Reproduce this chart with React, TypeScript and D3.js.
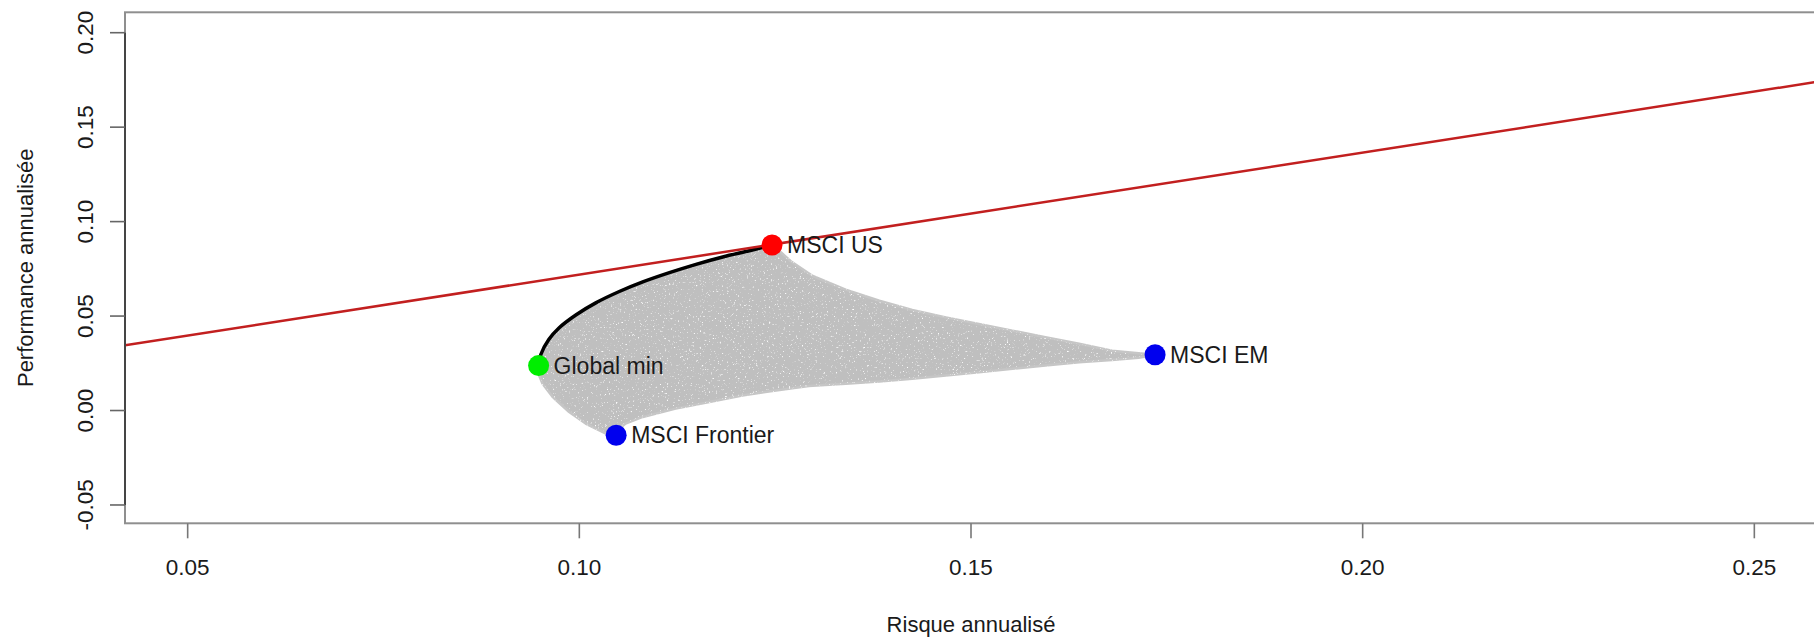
import React from 'react';
import * as d3 from 'd3';

// ---------- data ----------
const xTicks = [0.05, 0.1, 0.15, 0.2, 0.25];
const xTickLabels = ['0.05', '0.10', '0.15', '0.20', '0.25'];
const yTicks = [-0.05, 0.0, 0.05, 0.1, 0.15, 0.2];
const yTickLabels = ['-0.05', '0.00', '0.05', '0.10', '0.15', '0.20'];

const assetNames = ['MSCI US', 'MSCI EM', 'MSCI Frontier', 'Global min'];
const assetRisk = [0.1246, 0.1735, 0.1047, 0.0948];
const assetReturn = [0.0876, 0.0295, -0.0131, 0.0238];
const assetColors = ['#ff0000', '#0000ee', '#0000ee', '#00ee00'];

// efficient frontier (Global min -> MSCI US)
const frontierRisk = [0.0948, 0.0951, 0.0961, 0.0974, 0.0996, 0.1021, 0.1051, 0.1081, 0.1115, 0.1149, 0.1183, 0.1217, 0.1246];
const frontierReturn = [0.0238, 0.0298, 0.0376, 0.0437, 0.0507, 0.057, 0.063, 0.0681, 0.073, 0.0774, 0.0813, 0.0846, 0.0876];

// simulated portfolio cloud outline
const cloudUpperRisk = [0.1246, 0.1258, 0.127, 0.1298, 0.134, 0.1383, 0.1425, 0.1468, 0.151, 0.1553, 0.1595, 0.1638, 0.168, 0.1714, 0.1735];
const cloudUpperReturn = [0.0876, 0.0835, 0.079, 0.0712, 0.0640, 0.0581, 0.0532, 0.0493, 0.0458, 0.0423, 0.0388, 0.0353, 0.0317, 0.0303, 0.0295];
const cloudLowerRisk = [0.1735, 0.1714, 0.168, 0.1638, 0.1595, 0.1553, 0.151, 0.1468, 0.1425, 0.1383, 0.134, 0.1293, 0.1251, 0.1208, 0.1166, 0.1123, 0.1081, 0.1059, 0.1051, 0.1047];
const cloudLowerReturn = [0.0295, 0.0279, 0.0268, 0.0256, 0.0238, 0.0221, 0.0203, 0.0186, 0.0168, 0.0154, 0.0142, 0.0130, 0.0106, 0.008, 0.0045, 0.001, -0.0034, -0.0069, -0.0096, -0.0131];
const cloudLeftRisk = [0.1047, 0.1034, 0.1008, 0.0987, 0.0966, 0.0953, 0.0947, 0.0948];
const cloudLeftReturn = [-0.0131, -0.0122, -0.0069, -0.0008, 0.0071, 0.0142, 0.0203, 0.0238];

// capital market line (two points on it)
const cmlRisk = [0.042, 0.258];
const cmlReturn = [0.0345, 0.174];

const W = 1814;
const H = 641;
const FONT = "'Liberation Sans', Arial, Helvetica, sans-serif";

export default function App() {
  const left = 125, right = 1817, top = 12.3, bottom = 523.3;
  const x = d3.scaleLinear().domain([0.042, 0.258]).range([left, right]);
  const y = d3.scaleLinear().domain([-0.0597, 0.2108]).range([bottom, top]);

  const zip = (a: number[], b: number[]) => a.map((v, i) => [v, b[i]] as [number, number]);
  const cloudPts = [
    ...zip(frontierRisk, frontierReturn),
    ...zip(cloudUpperRisk, cloudUpperReturn),
    ...zip(cloudLowerRisk, cloudLowerReturn),
    ...zip(cloudLeftRisk, cloudLeftReturn),
  ];
  const mk = () => d3.line<[number, number]>().x(d => x(d[0])).y(d => y(d[1]));
  const cloudPath = mk().curve(d3.curveLinearClosed)(cloudPts) || '';
  const frontierPath = mk().curve(d3.curveCatmullRom)(zip(frontierRisk, frontierReturn)) || '';
  const cmlPath = mk()(zip(cmlRisk, cmlReturn)) || '';

  return (
    <svg width={W} height={H} style={{ position: 'absolute', left: 0, top: 0, background: '#fff' }} fontFamily={FONT}>
      <defs>
        <clipPath id="plotclip">
          <rect x={left} y={top} width={right - left} height={bottom - top} />
        </clipPath>
        <filter id="speckle" x="-2%" y="-5%" width="104%" height="110%">
          <feTurbulence type="fractalNoise" baseFrequency="0.55" numOctaves="2" seed="7" result="noise" />
          <feColorMatrix in="noise" type="matrix" values="0 0 0 0 1  0 0 0 0 1  0 0 0 0 1  5 0 0 0 -3.2" result="spots" />
          <feComposite in="spots" in2="SourceGraphic" operator="in" result="spotsIn" />
          <feMerge>
            <feMergeNode in="SourceGraphic" />
            <feMergeNode in="spotsIn" />
          </feMerge>
        </filter>
      </defs>
      <rect x={0} y={0} width={W} height={H} fill="#fff" />
      <g clipPath="url(#plotclip)">
        <path d={cloudPath} fill="#bfbfbf" stroke="#c6c6c6" strokeWidth={2.5} strokeLinejoin="round" filter="url(#speckle)" />
        <path d={frontierPath} fill="none" stroke="#000" strokeWidth={3.5} />
        <path d={cmlPath} fill="none" stroke="#c21f1f" strokeWidth={2.5} />
        {assetNames.map((n, i) => (
          <circle key={n} cx={x(assetRisk[i])} cy={y(assetReturn[i])} r={10.5} fill={assetColors[i]} />
        ))}
        {assetNames.map((n, i) => (
          <text key={n + 't'} x={x(assetRisk[i]) + 15} y={y(assetReturn[i]) + 8} fontSize={23} fill="#1a1a1a">
            {n}
          </text>
        ))}
      </g>
      {/* box */}
      <rect x={left} y={top} width={right - left} height={bottom - top} fill="none" stroke="#8f8f8f" strokeWidth={2} />
      {/* y axis */}
      <line x1={left} x2={left} y1={y(0.2)} y2={y(-0.05)} stroke="#333" strokeWidth={1.6} />
      {yTicks.map((t, i) => (
        <g key={'y' + i}>
          <line x1={left - 15} x2={left} y1={y(t)} y2={y(t)} stroke="#666" strokeWidth={1.6} />
          <text transform={`translate(93,${y(t)}) rotate(-90)`} textAnchor="middle" fontSize={22.5} fill="#1a1a1a">
            {yTickLabels[i]}
          </text>
        </g>
      ))}
      {/* x axis */}
      {xTicks.map((t, i) => (
        <g key={'x' + i}>
          <line x1={x(t)} x2={x(t)} y1={bottom} y2={bottom + 15} stroke="#777" strokeWidth={1.6} />
          <text x={x(t)} y={575} textAnchor="middle" fontSize={22.5} fill="#1a1a1a">
            {xTickLabels[i]}
          </text>
        </g>
      ))}
      <text x={(left + right) / 2} y={632} textAnchor="middle" fontSize={22} fill="#1a1a1a">
        Risque annualisé
      </text>
      <text transform={`translate(33,${(top + bottom) / 2}) rotate(-90)`} textAnchor="middle" fontSize={22} fill="#1a1a1a">
        Performance annualisée
      </text>
    </svg>
  );
}
